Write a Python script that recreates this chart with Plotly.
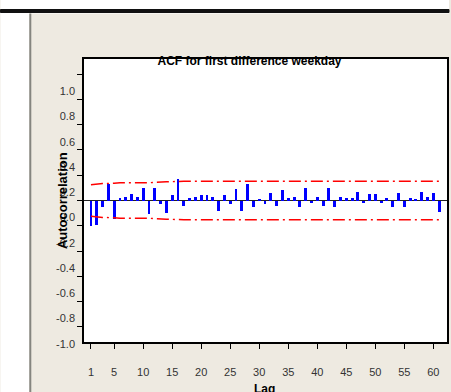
import plotly.graph_objects as go

# ---------------- data ----------------
lags = list(range(1, 62))
acf = [-0.20, -0.19, -0.05, 0.13, -0.15, 0.02, 0.03, 0.05, 0.03, 0.10,
       -0.11, 0.10, -0.03, -0.10, 0.04, 0.17, -0.04, 0.02, 0.03, 0.04,
       0.04, 0.03, -0.08, 0.045, -0.03, 0.09, -0.085, 0.13, -0.05, 0.01,
       -0.03, 0.06, -0.04, 0.08, 0.02, 0.03, -0.05, 0.10, -0.02, 0.03,
       -0.04, 0.10, -0.05, 0.03, 0.02, 0.02, 0.065, -0.02, 0.05, 0.05,
       -0.02, 0.02, -0.05, 0.06, -0.05, 0.02, 0.01, 0.07, 0.03, 0.06,
       -0.09]

conf_lags = [1, 2, 3, 5, 6, 11, 12, 13, 14, 17, 61]
conf_upper = [0.125, 0.130, 0.134, 0.137, 0.140, 0.141, 0.145, 0.147, 0.148, 0.152, 0.152]
conf_lower = [-0.125, -0.130, -0.134, -0.137, -0.140, -0.141, -0.145, -0.147, -0.148, -0.152, -0.152]

x_tick_vals = [1, 5, 10, 15, 20, 25, 30, 35, 40, 45, 50, 55, 60]
y_tick_vals = [1.0, 0.8, 0.6, 0.4, 0.2, 0.0, -0.2, -0.4, -0.6, -0.8, -1.0]
y_tick_text = ["1.0", "0.8", "0.6", "0.4", "0.2", "0.0", "-0.2", "-0.4", "-0.6", "-0.8", "-1.0"]

title_text = "ACF for first difference weekday"
x_title = "Lag"
y_title = "Autocorrelation"

# ---------------- layout helpers ----------------
W, H = 451, 392
L, R, T, B = 84, 2, 59, 50
PW, PH = W - L - R, H - T - B


def px_x(x):
    return (x - L) / PW


def px_y(y):
    return 1 - (y - T) / PH


BEIGE = "#EEEAE1"
NARROW = "Liberation Sans Narrow, Arial Narrow, Liberation Sans, sans-serif"
BOLD = "Liberation Sans, Arial, sans-serif"

fig = go.Figure()

fig.add_trace(go.Bar(
    x=lags, y=acf, width=0.5,
    marker=dict(color="#0000FF", line=dict(width=0)),
    showlegend=False,
))

for vals in (conf_upper, conf_lower):
    fig.add_trace(go.Scatter(
        x=conf_lags, y=vals, mode="lines",
        line=dict(color="#FF0000", width=1.4, dash="12px,4px,2px,4px"),
        showlegend=False, hoverinfo="skip",
    ))

fig.update_layout(
    width=W, height=H,
    margin=dict(l=L, r=R, t=T, b=B, pad=0),
    paper_bgcolor=BEIGE,
    plot_bgcolor="white",
    bargap=0,
    title=dict(
        text="<b>" + title_text + "</b>",
        x=249.5 / W, xanchor="center",
        y=1 - 60.5 / H, yanchor="middle",
        font=dict(family=BOLD, size=12, color="#000000"),
    ),
    xaxis=dict(
        range=[-0.2, 62.36],
        tickmode="array", tickvals=x_tick_vals,
        ticks="outside", ticklen=5, tickwidth=1, tickcolor="#000000",
        showline=True, linecolor="#000000", linewidth=1.5, mirror=True,
        showgrid=False, zeroline=False,
        tickfont=dict(family=NARROW, size=11, color="#333333"),
        ticklabelstandoff=14,
    ),
    yaxis=dict(
        range=[-1.12, 1.12],
        tickmode="array", tickvals=y_tick_vals, ticktext=y_tick_text,
        ticks="outside", ticklen=5, tickwidth=1, tickcolor="#000000",
        showline=True, linecolor="#000000", linewidth=1.5, mirror=True,
        showgrid=False,
        zeroline=True, zerolinecolor="#222222", zerolinewidth=1.2,
        tickfont=dict(family=NARROW, size=11, color="#333333"),
        ticklabelshift=17,
    ),
    annotations=[
        dict(text="<b>" + y_title + "</b>", xref="paper", yref="paper",
             x=px_x(62), y=px_y(201), xanchor="center", yanchor="middle",
             textangle=-90, showarrow=False,
             font=dict(family=BOLD, size=13, color="#000000")),
        dict(text="<b>" + x_title + "</b>", xref="paper", yref="paper",
             x=px_x(265), y=px_y(380), xanchor="center", yanchor="top",
             showarrow=False,
             font=dict(family=BOLD, size=12, color="#000000")),
    ],
    shapes=[
        # white strip above the black rule
        dict(type="rect", xref="paper", yref="paper",
             x0=px_x(0), x1=px_x(W), y0=px_y(0), y1=px_y(9.5),
             fillcolor="white", line=dict(width=0), layer="above"),
        # white gap below the black rule
        dict(type="rect", xref="paper", yref="paper",
             x0=px_x(0), x1=px_x(W), y0=px_y(12.5), y1=px_y(13.5),
             fillcolor="white", line=dict(width=0), layer="above"),
        # white strip on the left
        dict(type="rect", xref="paper", yref="paper",
             x0=px_x(0), x1=px_x(29), y0=px_y(12.5), y1=px_y(H),
             fillcolor="white", line=dict(width=0), layer="above"),
        # black rule across the top
        dict(type="rect", xref="paper", yref="paper",
             x0=px_x(0), x1=px_x(W), y0=px_y(9.5), y1=px_y(12.5),
             fillcolor="#111111", line=dict(color="#111111", width=1),
             layer="above"),
        # grey panel edge on the left
        dict(type="rect", xref="paper", yref="paper",
             x0=px_x(29), x1=px_x(31), y0=px_y(13.5), y1=px_y(H),
             fillcolor="#85857F", line=dict(width=0), layer="above"),
    ],
)

fig.write_html("out.html")
